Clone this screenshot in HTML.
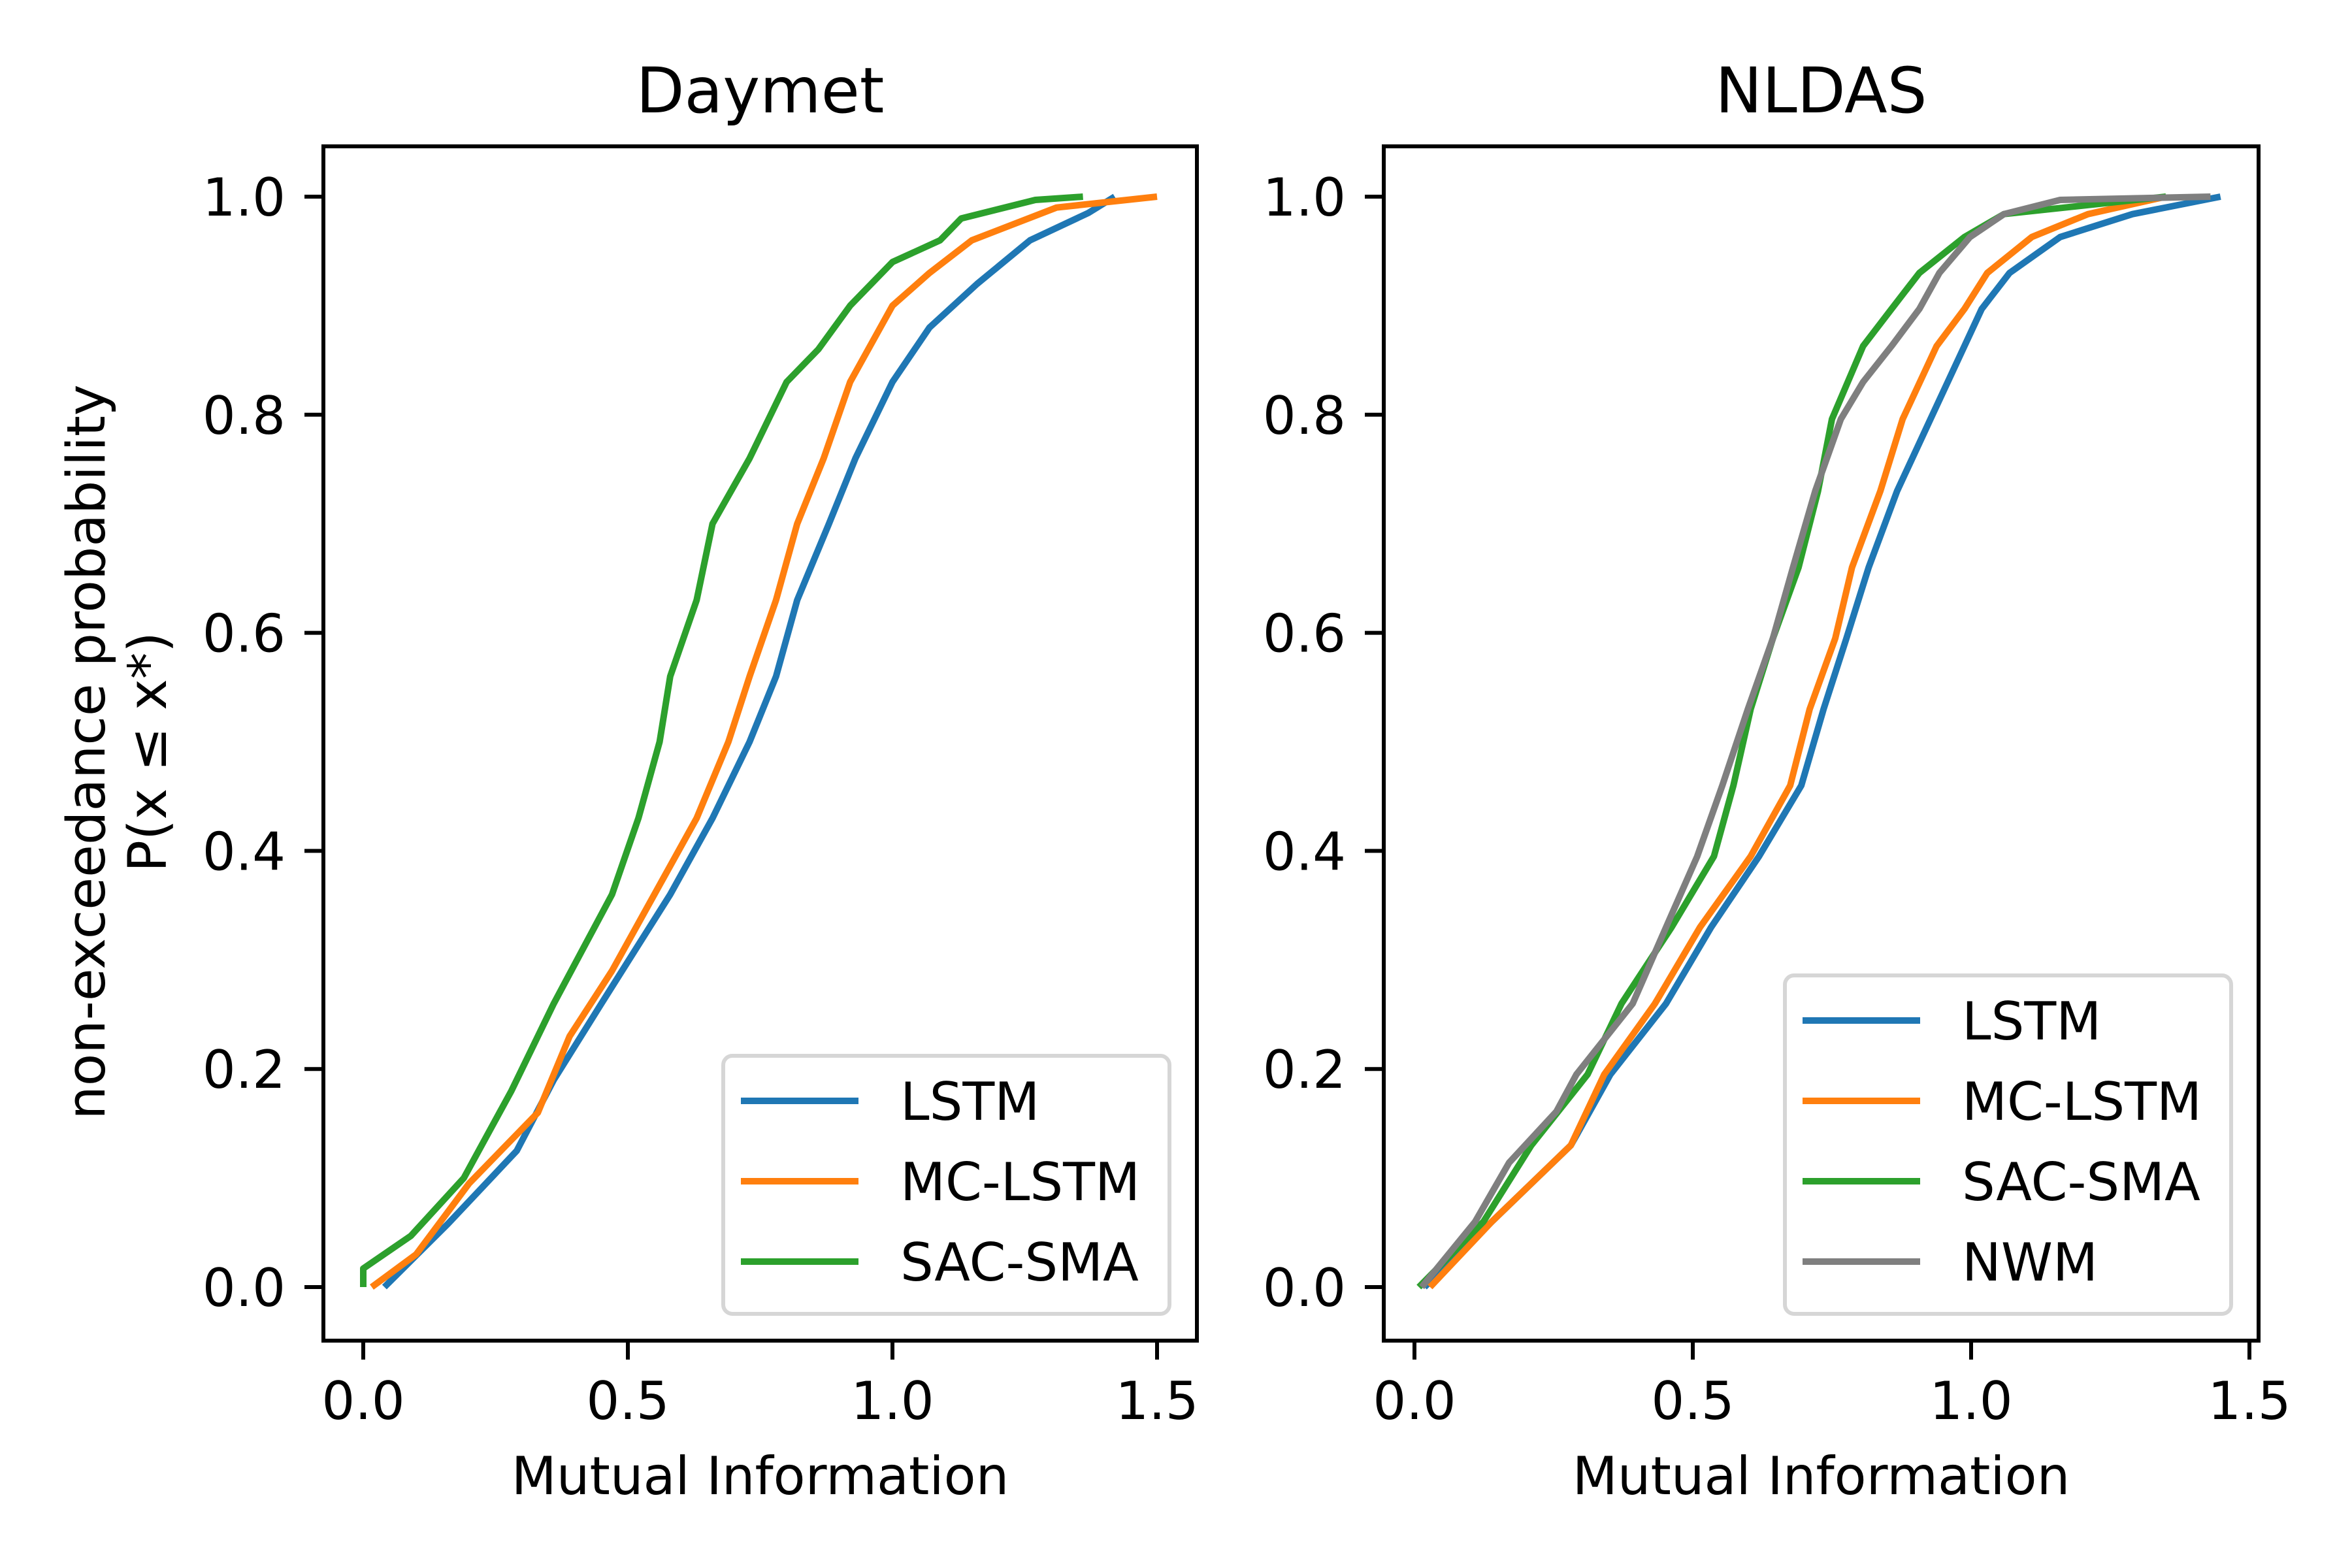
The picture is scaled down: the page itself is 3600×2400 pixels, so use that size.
<!DOCTYPE html>
<html><head><meta charset="utf-8"><style>
html,body{margin:0;padding:0;background:#fff;}
svg{display:block;font-family:"DejaVu Sans","Liberation Sans",sans-serif;}
</style></head><body>
<svg id="fig" width="3600" height="2400" viewBox="0 0 3600 2400" xmlns="http://www.w3.org/2000/svg">
<rect width="3600" height="2400" fill="#fff"/>
<g id="yl" font-size="81" fill="#000" text-anchor="middle">
<text transform="translate(160,1151) rotate(-90)">non-exceedance probability</text>
<text transform="translate(254,1151) rotate(-90)">P(x ≤ x*)</text>
</g>
</svg>
<script>
// Daymet
const dayLSTMp = [0,0.058,0.125,0.19,0.26,0.36,0.43,0.50,0.56,0.63,0.70,0.76,0.83,0.88,0.92,0.96,0.985,1.0];
const dayLSTM  = [0.04,0.16,0.29,0.36,0.45,0.58,0.66,0.73,0.78,0.82,0.88,0.93,1.00,1.07,1.16,1.26,1.37,1.42];
const dayMCp   = [0,0.03,0.095,0.16,0.23,0.29,0.36,0.43,0.50,0.56,0.63,0.70,0.76,0.83,0.90,0.93,0.96,0.99,1.0];
const dayMC    = [0.016,0.10,0.20,0.33,0.39,0.47,0.55,0.63,0.69,0.73,0.78,0.82,0.87,0.92,1.00,1.07,1.15,1.31,1.50];
const daySACp  = [0,0.017,0.047,0.10,0.18,0.26,0.36,0.43,0.50,0.56,0.63,0.70,0.76,0.83,0.86,0.90,0.94,0.96,0.98,0.997,1.0];
const daySAC   = [0,0,0.09,0.19,0.28,0.36,0.47,0.52,0.56,0.58,0.63,0.66,0.73,0.80,0.86,0.92,1.00,1.09,1.13,1.27,1.36];
// NLDAS
const nlProbs  = [0,0.06,0.13,0.195,0.26,0.33,0.395,0.46,0.53,0.595,0.66,0.73,0.796,0.863,0.897,0.93,0.963,0.984,1.0];
const nlLSTM   = [0.018,0.139,0.281,0.352,0.452,0.533,0.619,0.695,0.735,0.776,0.816,0.867,0.927,0.988,1.019,1.069,1.16,1.29,1.448];
const nlMC     = [0.028,0.139,0.281,0.341,0.432,0.513,0.604,0.675,0.71,0.756,0.786,0.837,0.877,0.938,0.988,1.029,1.109,1.21,1.35];
const nlSAC    = [0.008,0.124,0.21,0.311,0.372,0.462,0.538,0.573,0.604,0.644,0.69,0.725,0.75,0.806,0.857,0.907,0.988,1.059,1.35];
const nlNWMp   = [0,0.06,0.114,0.161,0.195,0.26,0.33,0.395,0.46,0.53,0.595,0.66,0.73,0.796,0.83,0.863,0.897,0.93,0.963,0.984,0.997,1.0];
const nlNWM    = [0.013,0.109,0.17,0.255,0.291,0.392,0.452,0.508,0.553,0.599,0.644,0.68,0.72,0.766,0.806,0.857,0.907,0.943,0.998,1.059,1.16,1.43];
const xTicks = [0,0.5,1.0,1.5];
const yTicks = [0,0.2,0.4,0.6,0.8,1.0];
const xTickLabels = ["0.0","0.5","1.0","1.5"];
const yTickLabels = ["0.0","0.2","0.4","0.6","0.8","1.0"];
const seriesNames = ["LSTM","MC-LSTM","SAC-SMA","NWM"];
const colors = {"LSTM":"#1f77b4","MC-LSTM":"#ff7f0e","SAC-SMA":"#2ca02c","NWM":"#7f7f7f"};

const NS="http://www.w3.org/2000/svg";
const svg=document.getElementById('fig');
function mk(tag,attrs,parent){const e=document.createElementNS(NS,tag);for(const k in attrs)e.setAttribute(k,attrs[k]);(parent||svg).appendChild(e);return e;}

const panels=[
 {name:"daymet",title:"Daymet",L:495,R:1832,x0:556,x15:1771,series:[["LSTM",dayLSTM,dayLSTMp],["MC-LSTM",dayMC,dayMCp],["SAC-SMA",daySAC,daySACp]]},
 {name:"nldas",title:"NLDAS",L:2118,R:3457,x0:2165,x15:3443,series:[["LSTM",nlLSTM,nlProbs],["MC-LSTM",nlMC,nlProbs],["SAC-SMA",nlSAC,nlProbs],["NWM",nlNWM,nlNWMp]]}
];
const T=224,B=2052,Y0=1970,Y1=301;
function ys(p){return Y0+(Y1-Y0)*p;}
panels.forEach(P=>{
 const xs=v=>P.x0+(P.x15-P.x0)*v/1.5;
 const g=mk('g',{});
 
 
 P.series.forEach(([nm,arr,pr])=>{
   let pts=[];
   for(let i=0;i<arr.length;i++){pts.push(xs(arr[i]).toFixed(1)+','+ys(pr[i]).toFixed(1));}
   const pl=mk('polyline',{points:pts.join(' '),fill:'none',stroke:colors[nm],'stroke-width':10,'stroke-linejoin':'round'},g);
   
   
 });
 const fr=mk('rect',{x:P.L,y:T,width:P.R-P.L,height:B-T,fill:'none',stroke:'#000','stroke-width':6},g);
 
 
 xTicks.forEach((v,i)=>{
   const x=xs(v);
   mk('line',{x1:x,x2:x,y1:B,y2:B+29,stroke:'#000','stroke-width':6},g);
   const t=mk('text',{x:x,y:2172,'font-size':80,'text-anchor':'middle'},g);
   t.textContent=xTickLabels[i];
   
   
 });
 yTicks.forEach((v,i)=>{
   const y=ys(v);
   mk('line',{x1:P.L-29,x2:P.L,y1:y,y2:y,stroke:'#000','stroke-width':6},g);
   const t=mk('text',{x:P.L-58,y:y+29,'font-size':80,'text-anchor':'end'},g);
   t.textContent=yTickLabels[i];
   
   
 });
 const ti=mk('text',{x:(P.L+P.R)/2,y:172,'font-size':96,'text-anchor':'middle'},g);
 ti.textContent=P.title;
 
 
 const xl=mk('text',{x:(P.L+P.R)/2,y:2287,'font-size':80,'text-anchor':'middle'},g);
 xl.textContent='Mutual Information';
 
 
 const n=P.series.length;
 const bx=P.R-725, bw=683, bb=2011, bh=(n-1)*123+149;
 const lg=mk('g',{},g);
 
 
 mk('rect',{x:bx,y:bb-bh,width:bw,height:bh,rx:14,fill:'#fff','fill-opacity':0.8,stroke:'#d6d6d6','stroke-width':6},lg);
 P.series.forEach(([nm],i)=>{
   const y=bb-bh+69+i*123;
   const ln=mk('line',{x1:bx+27,x2:bx+207,y1:y,y2:y,stroke:colors[nm],'stroke-width':10},lg);
   
   
   const t=mk('text',{x:bx+271,y:y+29,'font-size':80},lg);
   t.textContent=nm;
   
   
 });
});
</script>
</body></html>
